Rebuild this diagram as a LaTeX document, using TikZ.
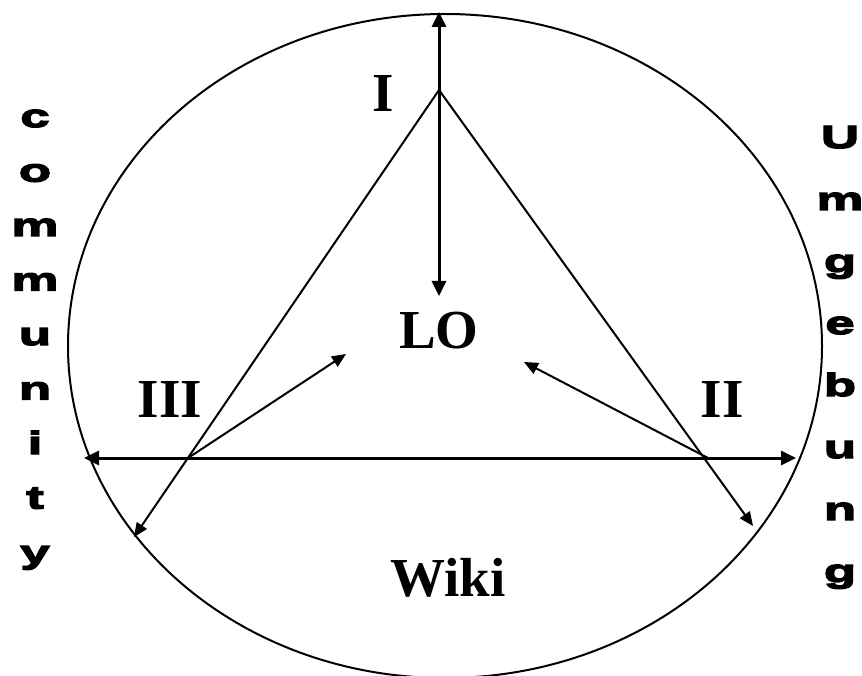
\documentclass[tikz,border=0pt]{standalone}
\usepackage{fontspec}
\setmainfont{Liberation Serif}
\newfontfamily\blackfont[FakeStretch=1.65,FakeBold=4.5]{Liberation Sans}
\usepackage{tikz}
\usetikzlibrary{arrows.meta, positioning, calc}
\tikzset{
  ringline/.style={draw=black, line width=2pt},
  mainline/.style={
    draw=black, line width=3pt,
    {Triangle[length=15pt, width=14pt]}-{Triangle[length=15pt, width=14pt]}
  },
  sidearrow/.style={
    draw=black, line width=2pt, -{Triangle[length=14pt, width=12pt]}
  },
  romanlabel/.style={
    font=\bfseries\fontsize{55}{60}\selectfont, inner sep=0pt
  },
  sideletter/.style={
    font=\blackfont\bfseries\fontsize{32}{36}\selectfont, inner sep=0pt, anchor=base
  }
}
\begin{document}
\begin{tikzpicture}[x=1pt, y=-1pt]
  \useasboundingbox (0,0) rectangle (862,676);

  % outer ring
  \draw[ringline] (445,346) ellipse [x radius=377, y radius=332];

  % corners of the triangle and arrow ends
  \coordinate (apex) at (439,90);
  \coordinate (vleft) at (188,458);
  \coordinate (vright) at (708,458);
  \coordinate (toptip) at (439,12);
  \coordinate (lotip) at (439,296);
  \coordinate (lefttip) at (84,458);
  \coordinate (righttip) at (796,458);
  \coordinate (leftout) at (134,537);
  \coordinate (rightout) at (753,526);
  \coordinate (leftin) at (346,354);
  \coordinate (rightin) at (524,362);

  % labels
  \node[romanlabel] (one) at (383,93) {I};
  \node[romanlabel] (lo) at (439,331) {LO};
  \node[romanlabel] (three) at (170,399) {III};
  \node[romanlabel] (two) at (722,399) {II};
  \node[romanlabel] (wiki) at (448,578) {Wiki};

  % side words
  \foreach \ch [count=\i] in {c,o,m,m,u,n,i,t,y}
    \node[sideletter] (com\i) at (35,{127+(\i-1)*54.5}) {\ch};
  \foreach \ch [count=\i] in {U,m,g,e,b,u,n,g}
    \node[sideletter] (umg\i) at (840,{148+(\i-1)*62}) {\ch};

  % connectors
  \draw[mainline] (toptip) -- (lotip);
  \draw[mainline] (lefttip) -- (righttip);
  \draw[sidearrow] (apex) -- (leftout);
  \draw[sidearrow] (apex) -- (rightout);
  \draw[sidearrow] (vleft) -- (leftin);
  \draw[sidearrow] (vright) -- (rightin);

\end{tikzpicture}
\end{document}
